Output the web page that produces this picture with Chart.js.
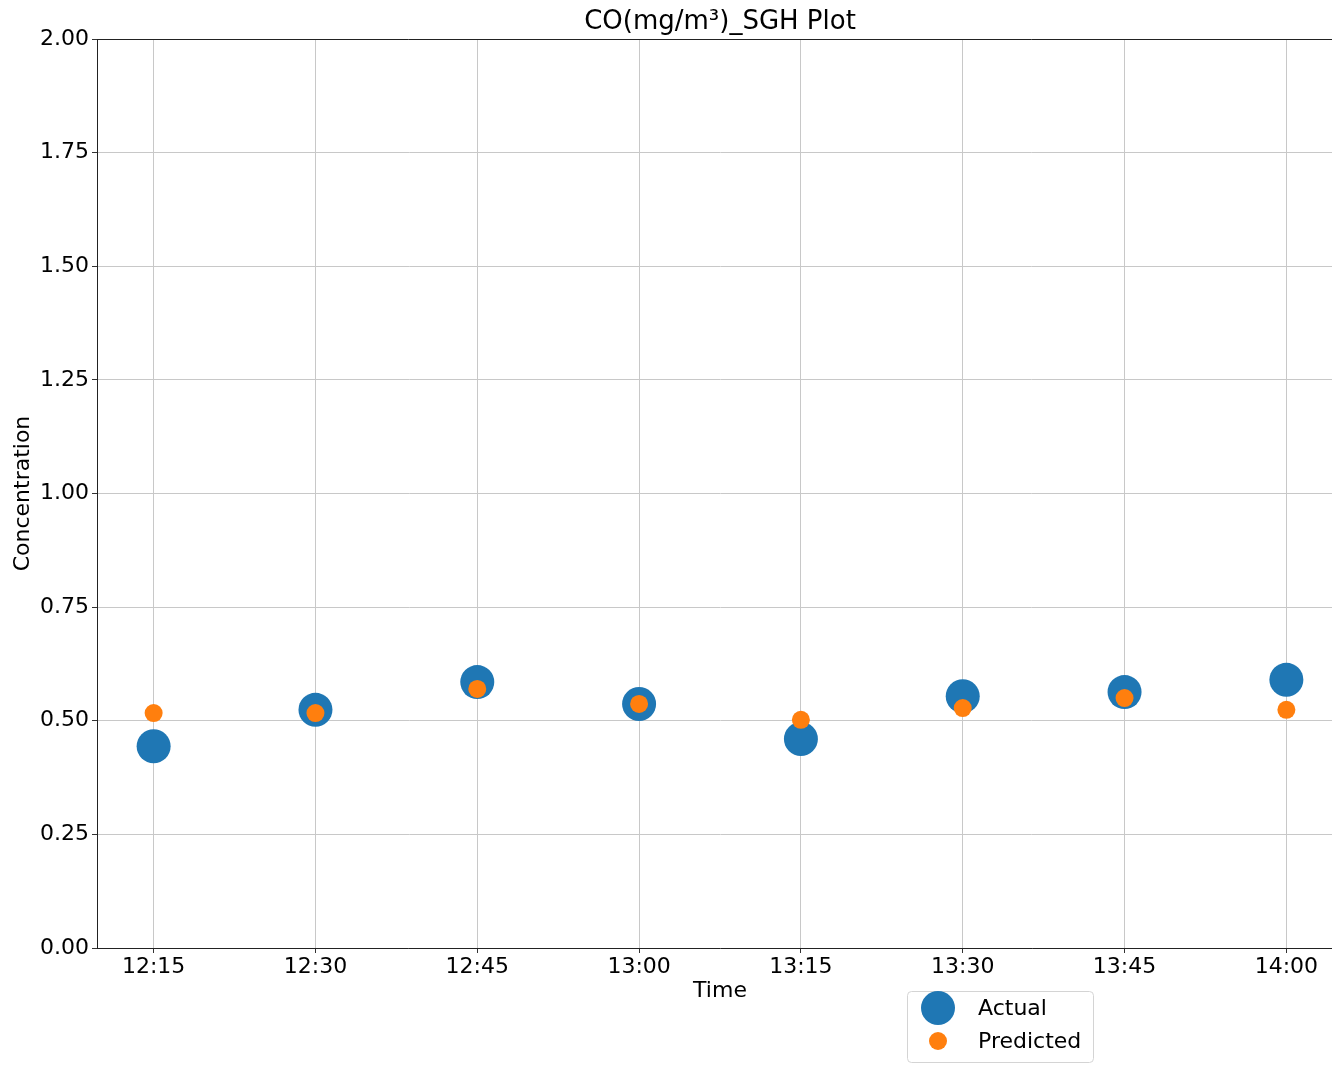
<!DOCTYPE html>
<html>
<head>
<meta charset="utf-8">
<script src="https://cdn.jsdelivr.net/npm/chart.js@4"></script>
<style>
  html, body { margin: 0; padding: 0; background: #fff; }
  #wrap { width: 1332px; height: 1068px; overflow: hidden; position: relative; }
  canvas { display: block; }
</style>
</head>
<body>
<div id="wrap"><canvas id="myChart" width="1360" height="1068"></canvas></div>
<script>
const times = ['12:15', '12:30', '12:45', '13:00', '13:15', '13:30', '13:45', '14:00'];
const actual = [0.444, 0.524, 0.585, 0.537, 0.460, 0.554, 0.563, 0.590];
const predicted = [0.517, 0.517, 0.570, 0.537, 0.502, 0.528, 0.550, 0.524];
const yTicks = [0, 0.25, 0.5, 0.75, 1.0, 1.25, 1.5, 1.75, 2.0];

const FONT = 'DejaVu Sans';
const toMin = t => { const [h, m] = t.split(':').map(Number); return h * 60 + m; };
const fmtMin = v => Math.floor(v / 60) + ':' + String(v % 60).padStart(2, '0');
const xVals = times.map(toMin);
const xPad = (xVals[xVals.length - 1] - xVals[0]) * 0.05;

const pts = arr => arr.map((y, i) => ({ x: xVals[i], y: y }));

// title, axis titles, top spine and legend box
const decor = {
  id: 'decor',
  afterDraw(chart) {
    const { ctx, chartArea: a } = chart;
    ctx.save();
    ctx.strokeStyle = '#222';
    ctx.lineWidth = 1;
    ctx.beginPath();
    ctx.moveTo(a.left, a.top + 0.5);
    ctx.lineTo(a.right, a.top + 0.5);
    ctx.stroke();

    ctx.fillStyle = '#000';
    ctx.textAlign = 'center';
    ctx.textBaseline = 'middle';
    ctx.font = '26px ' + FONT;
    ctx.fillText('CO(mg/m³)_SGH Plot', (a.left + a.right) / 2, 22);
    ctx.font = '22px ' + FONT;
    ctx.fillText('Time', (a.left + a.right) / 2, 991);
    ctx.save();
    ctx.translate(23, (a.top + a.bottom) / 2);
    ctx.rotate(-Math.PI / 2);
    ctx.fillText('Concentration', 0, 0);
    ctx.restore();

    // legend
    const bx = 907, by = 991, bw = 186, bh = 71;
    ctx.beginPath();
    ctx.roundRect(bx + 0.5, by + 0.5, bw, bh, 4);
    ctx.fillStyle = 'rgba(255,255,255,0.8)';
    ctx.fill();
    ctx.strokeStyle = '#d4d4d4';
    ctx.stroke();
    const items = [
      { label: 'Actual', color: '#1f77b4', r: 17, y: 1008 },
      { label: 'Predicted', color: '#ff7f0e', r: 9, y: 1041 }
    ];
    ctx.textAlign = 'left';
    ctx.font = '22px ' + FONT;
    items.forEach(it => {
      ctx.beginPath();
      ctx.arc(938, it.y, it.r, 0, Math.PI * 2);
      ctx.fillStyle = it.color;
      ctx.fill();
      ctx.fillStyle = '#000';
      ctx.fillText(it.label, 978, it.y + 1);
    });
    ctx.restore();
  }
};

new Chart(document.getElementById('myChart'), {
  type: 'scatter',
  data: {
    datasets: [{
      label: 'Actual',
      data: pts(actual),
      backgroundColor: '#1f77b4',
      pointRadius: 17,
      pointHoverRadius: 17,
      borderWidth: 0,
      order: 1
    }, {
      label: 'Predicted',
      data: pts(predicted),
      backgroundColor: '#ff7f0e',
      pointRadius: 9,
      pointHoverRadius: 9,
      borderWidth: 0,
      order: 0
    }]
  },
  options: {
    responsive: false,
    animation: false,
    layout: { padding: { top: 39, right: 17, left: 0, bottom: 0 } },
    plugins: {
      legend: { display: false },
      title: { display: false },
      tooltip: { enabled: false }
    },
    scales: {
      x: {
        type: 'linear',
        min: xVals[0] - xPad,
        max: xVals[xVals.length - 1] + xPad,
        afterBuildTicks: s => { s.ticks = xVals.map(v => ({ value: v })); },
        afterFit: s => { s.height = 120; },
        ticks: {
          callback: v => fmtMin(v),
          font: { family: FONT, size: 22 },
          color: '#000',
          padding: 1,
          maxRotation: 0
        },
        grid: { color: '#c8c8c8', lineWidth: 1, tickColor: '#333', tickLength: 5 },
        border: { color: '#222', width: 1 }
      },
      y: {
        min: 0,
        max: 2,
        afterBuildTicks: s => { s.ticks = yTicks.map(v => ({ value: v })); },
        afterFit: s => { s.width = 97; },
        ticks: {
          callback: v => v.toFixed(2),
          font: { family: FONT, size: 22 },
          color: '#000',
          padding: 3
        },
        grid: { color: '#c8c8c8', lineWidth: 1, tickColor: '#333', tickLength: 5 },
        border: { color: '#222', width: 1 }
      }
    }
  },
  plugins: [decor]
});
</script>
</body>
</html>
